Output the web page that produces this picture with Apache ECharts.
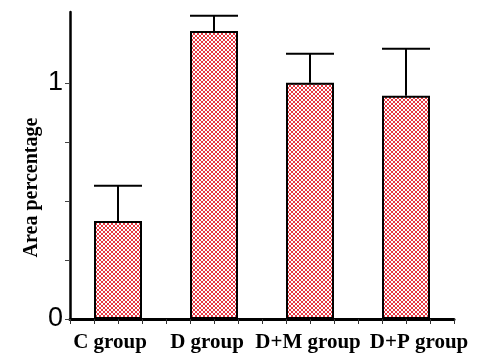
<!DOCTYPE html>
<html>
<head>
<meta charset="utf-8">
<script src="https://cdn.jsdelivr.net/npm/echarts@6/dist/echarts.min.js"></script>
<style>html,body{margin:0;padding:0;background:#fff}#c{width:492px;height:364px}</style>
</head>
<body>
<div id="c"></div>
<script>
var categories = ['C group', 'D group', 'D+M group', 'D+P group'];
var meanValues = [0.415, 1.22, 1.0, 0.945];
var errorValues = [0.149, 0.064, 0.123, 0.199];
var yTickValues = [0, 0.25, 0.5, 0.75, 1];
var yLabelValues = [0, 1];
var yAxisName = 'Area percentage';

function makePattern() {
  var cv = document.createElement('canvas');
  cv.width = 4; cv.height = 4;
  var ctx = cv.getContext('2d');
  ctx.fillStyle = '#ffffff';
  ctx.fillRect(0, 0, 4, 4);
  ctx.fillStyle = '#e63842';
  for (var i = 0; i < 4; i++) {
    ctx.fillRect(i, i, 1, 1);
    ctx.fillRect(3 - i, i, 1, 1);
  }
  return cv;
}

// per-label horizontal nudges (as in the reference layout)
var labelRich = {
  l0: {padding: [0, 16, 0, 0]},
  l1: {padding: [0, 14, 0, 0]},
  l2: {padding: [0, 4, 0, 0]},
  l3: {padding: [0, 0, 0, 26]}
};
Object.keys(labelRich).forEach(function (k) {
  var r = labelRich[k];
  r.fontFamily = 'Liberation Serif'; r.fontWeight = 'bold'; r.fontSize = 21; r.color = '#000';
});

var chart = echarts.init(document.getElementById('c'), null, {renderer: 'canvas'});
var errData = categories.map(function (c, i) { return [i, meanValues[i], meanValues[i] + errorValues[i]]; });

chart.setOption({
  animation: false,
  backgroundColor: '#fff',
  grid: {left: 70, right: 38, top: 12, bottom: 45, containLabel: false},
  xAxis: [{
    type: 'category',
    data: categories,
    axisLine: {lineStyle: {color: '#000', width: 3}},
    axisTick: {alignWithLabel: true, length: 8, lineStyle: {color: '#333', width: 1}},
    axisLabel: {
      interval: 0, margin: 13, hideOverlap: false,
      formatter: function (v, i) { return '{l' + i + '|' + v + '}'; },
      rich: labelRich
    }
  }, {
    type: 'value', min: 0, max: 16, interval: 1, position: 'bottom',
    axisLine: {show: false},
    axisTick: {show: true, length: 5, lineStyle: {color: '#333', width: 1}},
    axisLabel: {show: false}, splitLine: {show: false}
  }],
  yAxis: {
    type: 'value', min: 0, max: 1.3,
    name: yAxisName, nameLocation: 'middle', nameGap: 28, nameRotate: 90, nameMoveOverlap: false,
    nameTextStyle: {fontFamily: 'Liberation Serif', fontWeight: 'bold', fontSize: 20, color: '#000', padding: [0, 44, 0, 0]},
    axisLine: {show: true, lineStyle: {color: '#000', width: 2.5}},
    axisTick: {show: true, length: 5, customValues: yTickValues, lineStyle: {color: '#444', width: 1}},
    axisLabel: {customValues: yLabelValues, margin: 7, color: '#000', fontFamily: 'Liberation Sans', fontSize: 27},
    splitLine: {show: false}
  },
  series: [{
    type: 'bar',
    xAxisIndex: 0,
    data: meanValues,
    barWidth: '50%',
    itemStyle: {color: {image: makePattern(), repeat: 'repeat'}, borderColor: '#000', borderWidth: 2}
  }, {
    type: 'custom',
    xAxisIndex: 0,
    data: errData,
    z: 5,
    renderItem: function (params, api) {
      var x = api.value(0);
      var lo = api.coord([x, api.value(1)]);
      var hi = api.coord([x, api.value(2)]);
      var w = api.size([1, 0])[0] * 0.5;
      var st = {stroke: '#000', lineWidth: 2};
      return {type: 'group', children: [
        {type: 'line', shape: {x1: lo[0], y1: lo[1], x2: hi[0], y2: hi[1]}, style: st},
        {type: 'line', shape: {x1: hi[0] - w / 2, y1: hi[1], x2: hi[0] + w / 2, y2: hi[1]}, style: st}
      ]};
    }
  }]
});
</script>
</body>
</html>
